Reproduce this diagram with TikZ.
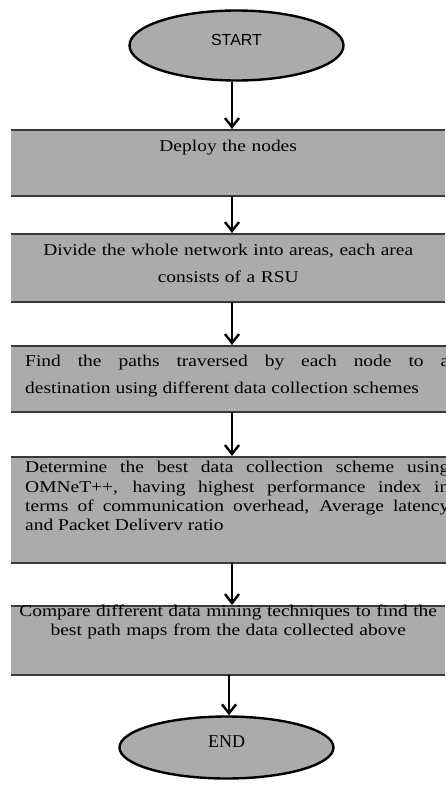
\documentclass[tikz,border=0pt]{standalone}
\usepackage{fontspec}
\setmainfont{Liberation Serif}
\newfontfamily\arialfont{Liberation Sans}
\newfontfamily\boxfont{Liberation Serif}[FakeStretch=1.18]
\usetikzlibrary{shapes.geometric,arrows.meta}

\definecolor{boxgray}{HTML}{ABABAB}
\definecolor{rulegray}{HTML}{3A3A3A}

\tikzset{
    terminal/.style={ellipse, draw, line width=2.4pt, fill=boxgray, minimum width=214pt, text height=12pt, text depth=12pt},
    stepbox/.style={fill=boxgray, anchor=north west, inner ysep=0pt,
        font=\boxfont\fontsize{16.5}{#1}\selectfont,
        execute at begin node={\setlength{\baselineskip}{#1pt}},
        path picture={\draw[rulegray, line width=3.4pt]
            (path picture bounding box.north west) -- (path picture bounding box.north east)
            (path picture bounding box.south west) -- (path picture bounding box.south east);}},
    centred/.style={text width=432pt, inner xsep=1pt, align=center},
    justified/.style={text width=424pt, inner xsep=14pt, align=justify},
    flow/.style={line width=2.4pt, -{Straight Barb[length=9pt, width=14pt]}}
}

\begin{document}
\begin{tikzpicture}[x=1pt, y=-1pt]
    \useasboundingbox (0,0) rectangle (445,789);
    \coordinate (spine) at (232,0);
    \coordinate (endspine) at (229,0);

    % start and end
    \node[terminal, minimum height=70pt, font=\arialfont\fontsize{16}{19}\selectfont] (start) at (236.5,45.5) {START};
    \node[terminal, minimum height=62pt, font=\fontsize{18}{21}\selectfont] (finish) at (226.5,747.5) {END};

    % steps
    \node[stepbox=19.3, centred, text height=22.7pt, text depth=44.3pt] (deploy) at (11,129) {Deploy the nodes};
    \node[stepbox=26.5, centred, text height=22.7pt, text depth=46.3pt] (divide) at (11,233)
        {Divide the whole network into areas, each area\\consists of a RSU};
    \node[stepbox=27, justified, text height=21.7pt, text depth=45.3pt] (paths) at (11,345)
        {Find the paths traversed by each node to a\linebreak destination using different data collection schemes};
    \node[stepbox=19.3, justified, text height=16.7pt, text depth=90.3pt] (scheme) at (11,456)
        {Determine the best data collection scheme using\linebreak OMNeT++, having highest performance index in\linebreak terms of communication overhead, Average latency\linebreak and Packet Deliverv ratio};
    \node[stepbox=19, centred, text height=11.7pt, text depth=58.3pt] (compare) at (11,605)
        {Compare different data mining techniques to find the\\best path maps from the data collected above};

    % arrows
    \draw[flow] (start.south -| spine) -- (deploy.north -| spine);
    \draw[flow] (deploy.south -| spine) -- (divide.north -| spine);
    \draw[flow] (divide.south -| spine) -- (paths.north -| spine);
    \draw[flow] (paths.south -| spine) -- (scheme.north -| spine);
    \draw[flow] (scheme.south -| spine) -- (compare.north -| spine);
    \draw[flow] (compare.south -| endspine) -- (finish.north -| endspine);
\end{tikzpicture}
\end{document}
